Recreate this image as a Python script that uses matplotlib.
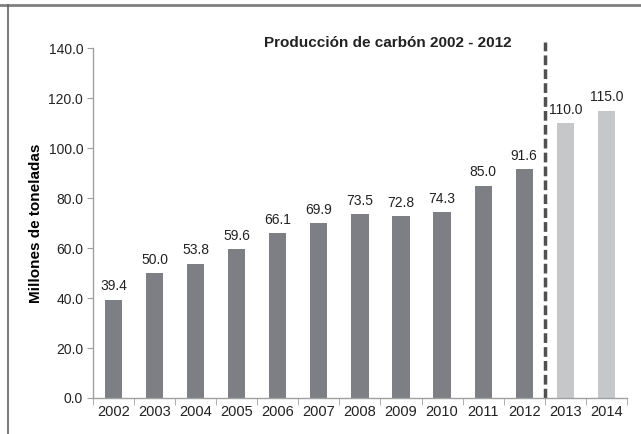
import matplotlib
matplotlib.use("Agg")
import matplotlib.pyplot as plt
from matplotlib.lines import Line2D

years = ["2002", "2003", "2004", "2005", "2006", "2007", "2008",
         "2009", "2010", "2011", "2012", "2013", "2014"]
produccion = [39.4, 50.0, 53.8, 59.6, 66.1, 69.9, 73.5, 72.8, 74.3, 85.0, 91.6, 110.0, 115.0]
n_real = 11  # 2002-2012 real, 2013-2014 proyectado

plt.rcParams['font.family'] = ['Liberation Sans', 'DejaVu Sans']

fig = plt.figure(figsize=(6.41, 4.34), dpi=100)
ax = fig.add_axes([0.145, 0.083, 0.833, 0.806])

x = list(range(len(years)))
colores = ["#7e7f84"] * n_real + ["#c6c7c9"] * (len(years) - n_real)
ax.bar(x, produccion, width=0.42, color=colores)

for i, v in enumerate(produccion):
    ax.text(i, v + 2.5, f"{v:.1f}", ha="center", va="bottom", fontsize=10, color="#222222")

ax.set_xlim(-0.5, len(years) - 0.5)
ax.set_ylim(0, 140)
ax.set_yticks([0, 20, 40, 60, 80, 100, 120, 140])
ax.set_yticklabels([f"{t:.1f}" for t in [0, 20, 40, 60, 80, 100, 120, 140]])
ax.set_xticks(x)
ax.set_xticklabels(years)
ax.set_xticks([i - 0.5 for i in range(len(years) + 1)], minor=True)
ax.tick_params(axis="x", which="major", length=0, labelsize=10.5, pad=5, colors="#222222")
ax.tick_params(axis="x", which="minor", length=5, color="#a0a0a0")
ax.tick_params(axis="y", length=4, color="#a0a0a0", labelsize=10, pad=3, labelcolor="#222222")

for s in ["top", "right"]:
    ax.spines[s].set_visible(False)
for s in ["left", "bottom"]:
    ax.spines[s].set_color("#a0a0a0")
    ax.spines[s].set_linewidth(1)

ax.set_ylabel("Millones de toneladas", fontsize=11, fontweight="bold")
ax.yaxis.set_label_coords(-0.093, 0.5)

# linea divisoria entre real y proyectado
ax.plot([n_real - 0.5, n_real - 0.5], [0, 142.5], color="#505050", lw=2.5,
        dashes=(2.8, 1.2), clip_on=False)

fig.text(0.605, 0.901, "Producción de carbón 2002 - 2012",
         ha="center", va="center", fontsize=11, fontweight="bold", color="#222222")

# marco de la imagen
fig.add_artist(Line2D([0, 1], [0.989, 0.989], transform=fig.transFigure, color="#808080", lw=2))
fig.add_artist(Line2D([0.0125, 0.0125], [0, 0.989], transform=fig.transFigure, color="#606060", lw=1.2))

fig.savefig("out.png", dpi=100)
